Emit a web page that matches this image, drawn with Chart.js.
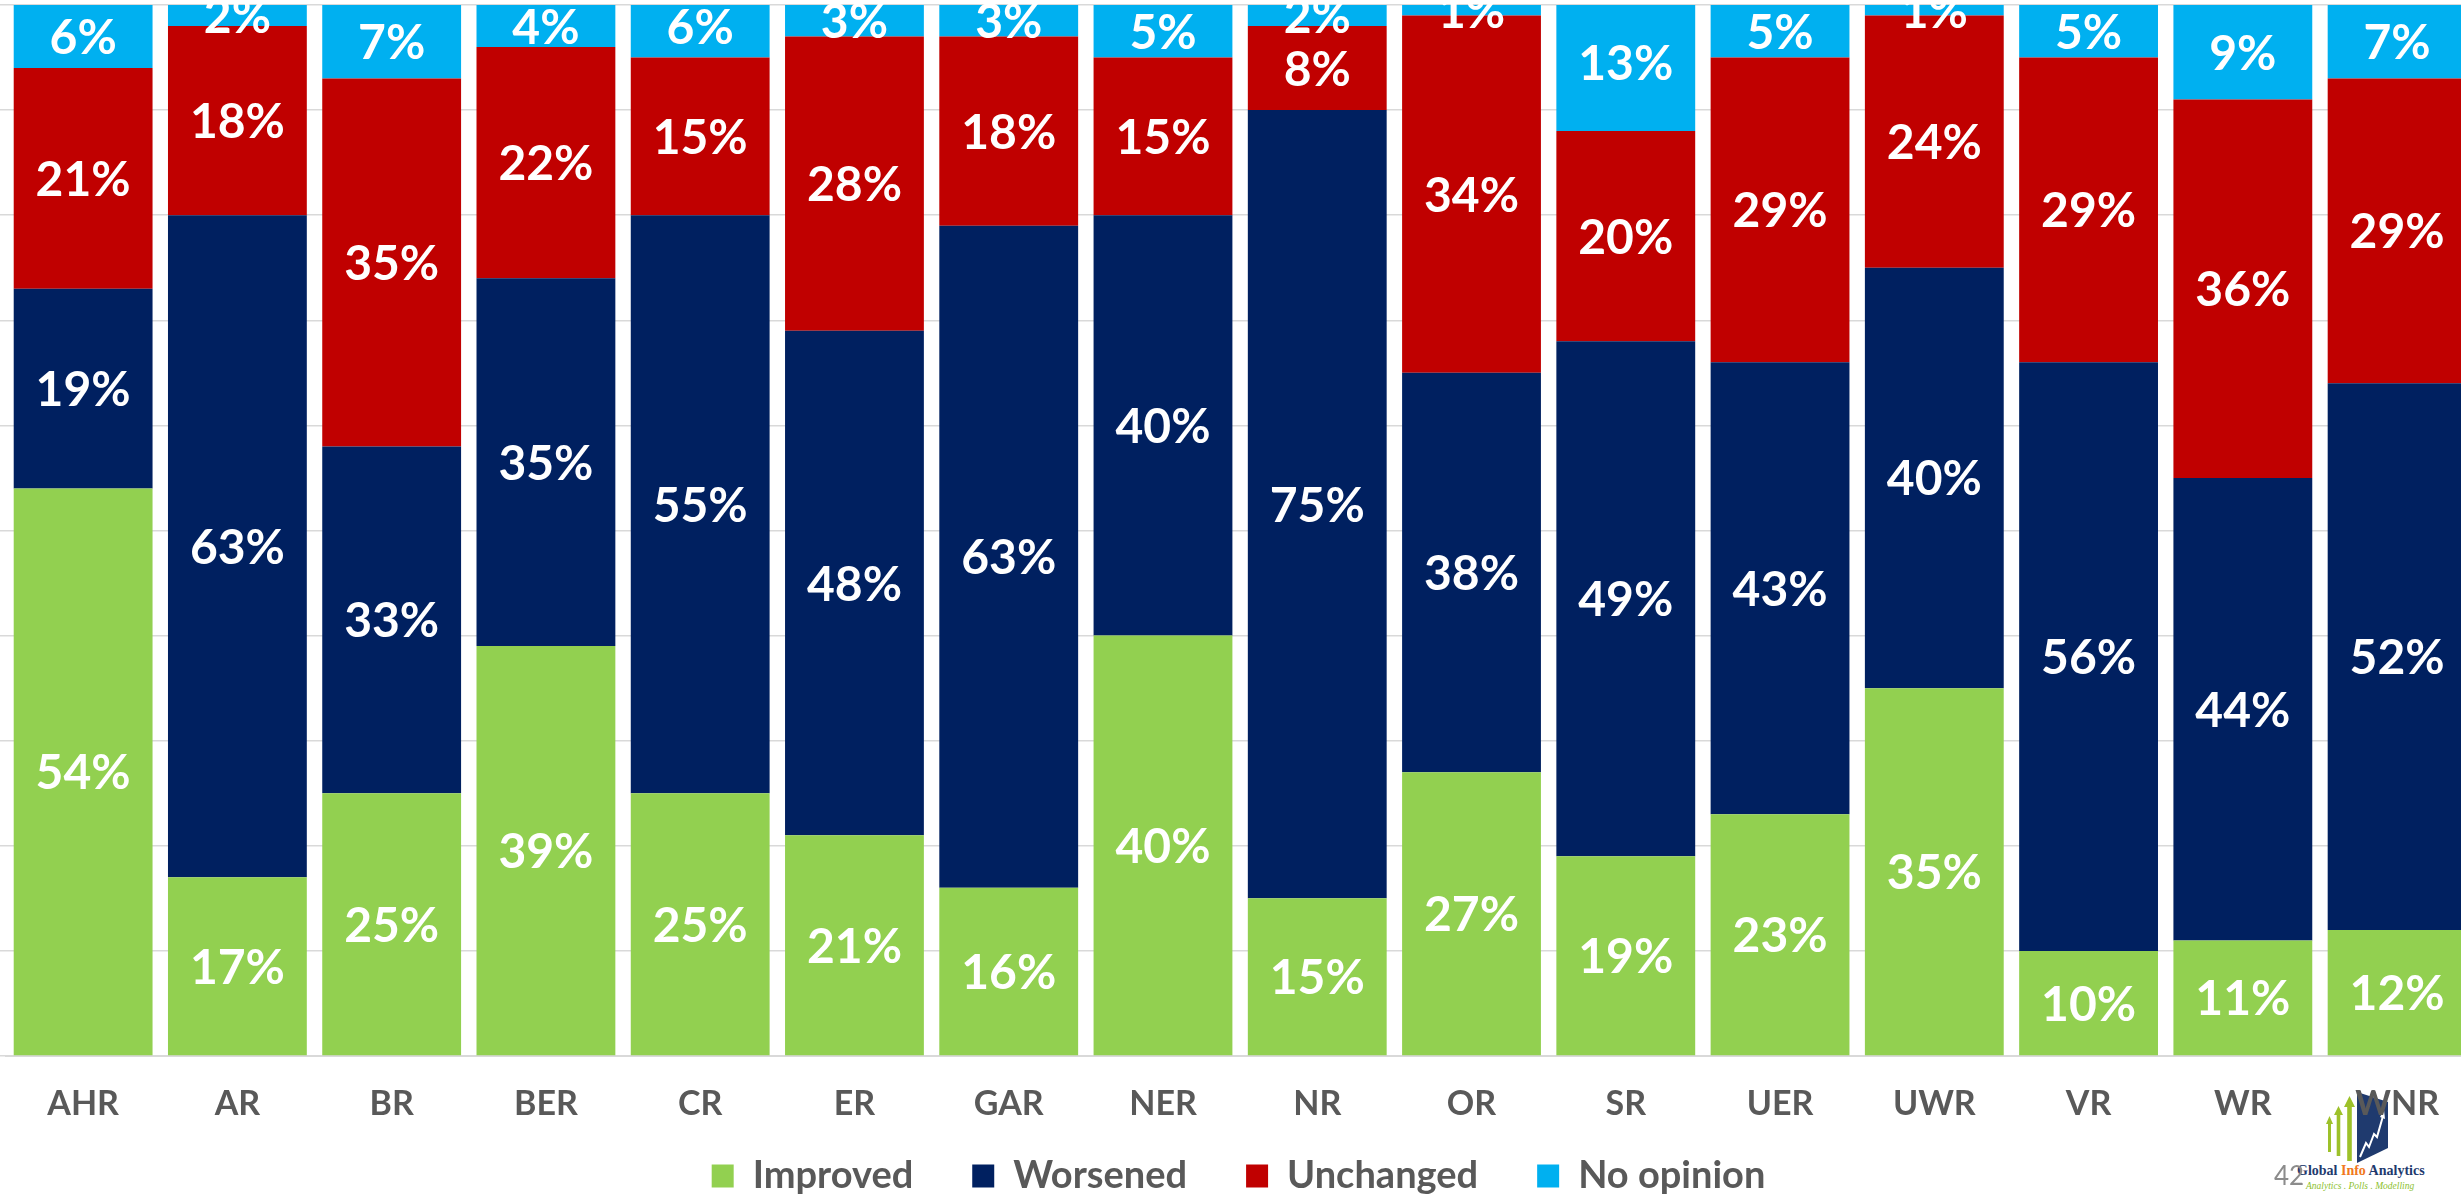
<!DOCTYPE html>
<html>
<head>
<meta charset="utf-8">
<script src="https://cdn.jsdelivr.net/npm/chart.js@4.4.1/dist/chart.umd.min.js"></script>
<style>
html, body { margin: 0; padding: 0; background: #fff; overflow: hidden; }
#wrap { position: relative; width: 2477px; height: 1198px; }
#logo { position: absolute; left: 0; top: 0; }
#chart { position: absolute; left: 0; top: 0; }
.page { position: absolute; left: 2274px; top: 1162px; font: 26px/26px Lato, sans-serif; color: #8c8c8c; z-index: 2; }
.brand { position: absolute; left: 2297px; top: 1164px; font: bold 14px/14px "Liberation Serif", serif; color: #1f3a6e; white-space: nowrap; }
.brand span { color: #f07820; }
.tag { position: absolute; left: 2306px; top: 1181px; font: italic 9.5px/10px "Liberation Serif", serif; color: #8dbf2e; white-space: nowrap; }
</style>
</head>
<body>
<div id="wrap">
  <svg id="logo" width="2477" height="1198">
    <g fill="#9dc12a">
      <polygon points="2326,1124 2329.5,1116 2333,1124 2331,1124 2331,1152 2328,1152 2328,1124"/>
      <polygon points="2334,1115 2338.5,1106 2343,1115 2340.3,1115 2340.3,1156 2336.7,1156 2336.7,1115"/>
      <polygon points="2344,1107 2349.5,1096 2355,1107 2351.8,1107 2351.8,1161 2347.2,1161 2347.2,1107"/>
    </g>
    <polygon points="2357,1092 2388,1102 2388,1148 2357,1163" fill="#1f3a6e"/>
    <polyline points="2360,1157 2366,1143 2369,1147 2374,1134 2377,1137 2383,1116" fill="none" stroke="#fff" stroke-width="2"/>
    <polygon points="2380,1117 2384,1110 2385,1119" fill="#fff"/>
  </svg>
  <div class="brand">Global <span>Info</span> Analytics</div>
  <div class="tag">Analytics . Polls . Modelling</div>
  <div class="page">42</div>
  <canvas id="chart" width="2477" height="1198"></canvas>
</div>
<script>
const regions = ['AHR', 'AR', 'BR', 'BER', 'CR', 'ER', 'GAR', 'NER', 'NR', 'OR', 'SR', 'UER', 'UWR', 'VR', 'WR', 'WNR'];
const improved = [54, 17, 25, 39, 25, 21, 16, 40, 15, 27, 19, 23, 35, 10, 11, 12];
const worsened = [19, 63, 33, 35, 55, 48, 63, 40, 75, 38, 49, 43, 40, 56, 44, 52];
const unchanged = [21, 18, 35, 22, 15, 28, 18, 15, 8, 34, 20, 29, 24, 29, 36, 29];
const noOpinion = [6, 2, 7, 4, 6, 3, 3, 5, 2, 1, 13, 5, 1, 5, 9, 7];

const seriesNames = ['Improved', 'Worsened', 'Unchanged', 'No opinion'];
const seriesColors = ['#92D050', '#002060', '#C00000', '#00B0F0'];

// white percentage labels in the middle of every segment
const barLabels = {
	id: 'barLabels',
	afterLayout(chart) {
		// x labels hang below the (shortened) axis box, so let them be drawn
		chart.scales.x.bottom = chart.height;
	},
	afterDatasetsDraw(chart) {
		const ctx = chart.ctx;
		ctx.save();
		ctx.font = 'bold 48px Lato';
		ctx.fillStyle = '#fff';
		ctx.textAlign = 'center';
		ctx.textBaseline = 'middle';
		chart.data.datasets.forEach((ds, i) => {
			chart.getDatasetMeta(i).data.forEach((bar, j) => {
				ctx.fillText(ds.data[j] + '%', bar.x, (bar.y + bar.base) / 2 + 2);
			});
		});
		ctx.restore();
	}
};

function draw() {
	new Chart(document.getElementById('chart'), {
		type: 'bar',
		data: {
			labels: regions,
			datasets: [improved, worsened, unchanged, noOpinion].map((d, i) => ({
				label: seriesNames[i],
				data: d,
				backgroundColor: seriesColors[i],
				borderWidth: 0,
				barPercentage: 0.9,
				categoryPercentage: 1
			}))
		},
		options: {
			responsive: false,
			animation: false,
			layout: { padding: { top: 5, bottom: -7, left: 0, right: 0 } },
			scales: {
				x: {
					stacked: true,
					grid: { display: false, drawTicks: false },
					border: { display: true, color: '#d9d9d9', width: 2 },
					ticks: {
						color: '#595959',
						padding: 38,
						font: { family: 'Lato', size: 34, weight: 'bold', lineHeight: 0.6 }
					},
					// labels still sit 48px under the axis, the legend comes closer
					afterFit(scale) { scale.height = 42; }
				},
				y: {
					stacked: true,
					min: 0,
					max: 100,
					border: { display: false },
					grid: { color: '#d9d9d9', lineWidth: 1.5, drawTicks: true, tickLength: 6 },
					ticks: { display: false, stepSize: 10 }
				}
			},
			plugins: {
				tooltip: { enabled: false },
				legend: {
					position: 'bottom',
					labels: {
						color: '#595959',
						boxWidth: 22,
						boxHeight: 23,
						padding: 59,
						font: { family: 'Lato', size: 38, weight: 'bold' }
					}
				}
			}
		},
		plugins: [barLabels]
	});
}

document.fonts.load('bold 48px Lato').then(draw, draw);
</script>
</body>
</html>
